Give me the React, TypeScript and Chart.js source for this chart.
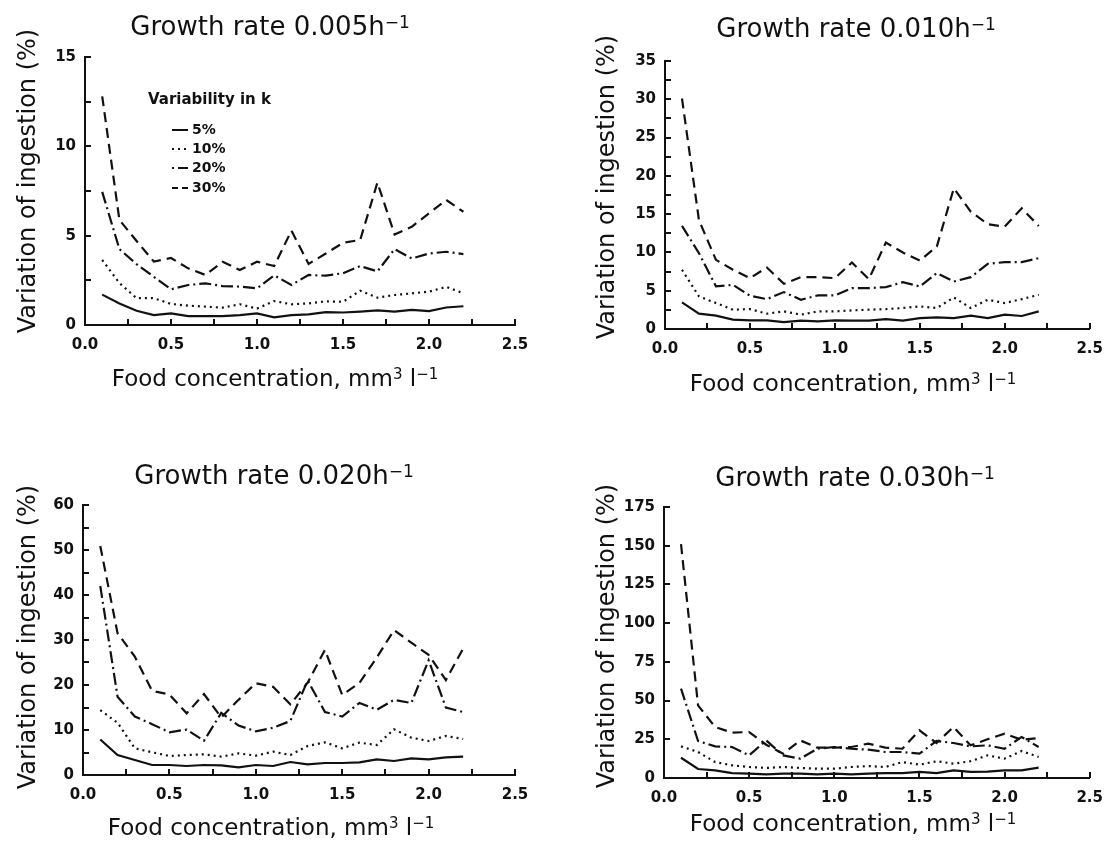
import React, { useEffect, useRef } from 'react';
import { Chart, registerables } from 'chart.js';

Chart.register(...registerables);

// ---------------- DATA ----------------
const foodConcentration = [0.1, 0.2, 0.3, 0.4, 0.5, 0.6, 0.7, 0.8, 0.9, 1.0, 1.1, 1.2, 1.3, 1.4, 1.5, 1.6, 1.7, 1.8, 1.9, 2.0, 2.1, 2.2];
const variabilityLabels = ['5%', '10%', '20%', '30%'];
const growthRateLabels = ['0.005', '0.010', '0.020', '0.030'];

// Growth rate 0.005 h-1
const g005_k5 = [1.7, 1.2, 0.8, 0.55, 0.65, 0.5, 0.5, 0.5, 0.55, 0.65, 0.43, 0.55, 0.6, 0.72, 0.7, 0.75, 0.82, 0.75, 0.85, 0.78, 0.98, 1.05];
const g005_k10 = [3.64, 2.35, 1.5, 1.5, 1.18, 1.08, 1.03, 0.97, 1.16, 0.92, 1.34, 1.16, 1.21, 1.32, 1.3, 1.92, 1.53, 1.68, 1.77, 1.87, 2.13, 1.78];
const g005_k20 = [7.45, 4.25, 3.4, 2.7, 2.0, 2.24, 2.33, 2.18, 2.15, 2.05, 2.78, 2.24, 2.8, 2.76, 2.9, 3.3, 3.0, 4.25, 3.72, 4.0, 4.1, 3.97];
const g005_k30 = [12.8, 5.88, 4.7, 3.55, 3.75, 3.17, 2.8, 3.54, 3.08, 3.54, 3.3, 5.28, 3.42, 4.0, 4.6, 4.76, 7.97, 5.07, 5.5, 6.25, 7.0, 6.34];

// Growth rate 0.010 h-1
const g010_k5 = [3.47, 2.0, 1.74, 1.22, 1.13, 1.13, 0.91, 1.09, 1.0, 1.13, 1.09, 1.09, 1.3, 1.09, 1.43, 1.52, 1.43, 1.74, 1.43, 1.87, 1.7, 2.3];
const g010_k10 = [7.73, 4.26, 3.39, 2.52, 2.6, 2.0, 2.3, 1.87, 2.3, 2.3, 2.43, 2.52, 2.6, 2.74, 2.95, 2.74, 4.12, 2.74, 3.82, 3.39, 3.9, 4.47];
const g010_k20 = [13.46, 9.9, 5.56, 5.77, 4.34, 3.9, 4.82, 3.82, 4.39, 4.39, 5.34, 5.34, 5.47, 6.12, 5.56, 7.3, 6.2, 6.77, 8.51, 8.73, 8.73, 9.25];
const g010_k30 = [30.1, 14.2, 9.03, 7.73, 6.64, 8.03, 5.9, 6.77, 6.77, 6.64, 8.68, 6.51, 11.29, 9.99, 8.94, 10.77, 18.37, 15.33, 13.68, 13.37, 15.76, 13.46];

// Growth rate 0.020 h-1
const g020_k5 = [7.9, 4.44, 3.33, 2.22, 2.22, 2.0, 2.22, 2.15, 1.7, 2.22, 2.0, 2.89, 2.37, 2.67, 2.67, 2.81, 3.48, 3.11, 3.7, 3.48, 3.93, 4.07];
const g020_k10 = [14.4, 11.6, 5.93, 5.04, 4.22, 4.44, 4.59, 4.07, 4.81, 4.3, 5.19, 4.44, 6.44, 7.26, 5.93, 7.19, 6.67, 10.15, 8.3, 7.56, 8.67, 8.0];
const g020_k20 = [42, 17.4, 13, 11.3, 9.5, 10.1, 7.6, 13.8, 11, 9.7, 10.5, 12, 21, 14, 13, 16, 14.5, 16.7, 16, 25.5, 15, 14];
const g020_k30 = [50.9, 31.5, 26.3, 18.7, 17.9, 13.7, 18.0, 12.8, 16.7, 20.4, 19.6, 15.7, 20.5, 27.8, 17.8, 20.5, 26.1, 32.2, 29.4, 26.7, 21.1, 28.1];

// Growth rate 0.030 h-1
const g030_k5 = [13.1, 5.8, 4.9, 3.2, 2.8, 2.4, 2.8, 2.8, 2.4, 2.8, 2.4, 2.8, 3.2, 3.2, 3.9, 3.2, 4.9, 3.9, 4.1, 4.9, 4.9, 6.7];
const g030_k10 = [20.4, 16.8, 10.3, 8.2, 7.1, 6.5, 7.1, 6.5, 6.0, 6.0, 7.1, 7.7, 7.1, 10.3, 8.6, 10.8, 9.3, 10.8, 14.6, 12.5, 17.4, 13.6];
const g030_k20 = [57.7, 23.9, 20.4, 20.0, 14.6, 24.3, 14.6, 12.5, 18.9, 20.0, 18.9, 18.3, 16.8, 16.8, 15.7, 23.9, 22.6, 20.4, 21.1, 18.9, 26.5, 20.0];
const g030_k30 = [151, 46.9, 32.9, 29.3, 29.7, 21.5, 15.7, 24.3, 19.6, 19.6, 20.0, 22.2, 19.6, 18.9, 30.8, 22.6, 32.9, 21.1, 25.0, 28.6, 24.7, 25.8];

const panelSeries = [
  [g005_k5, g005_k10, g005_k20, g005_k30],
  [g010_k5, g010_k10, g010_k20, g010_k30],
  [g020_k5, g020_k10, g020_k20, g020_k30],
  [g030_k5, g030_k10, g030_k20, g030_k30],
];

// axis ranges / ticks
const yMaxValues = [15, 35, 60, 175];
const yTickSteps = [2.5, 2.5, 5, 25];
const yLabelSteps = [5, 5, 10, 25];
const xMaxValue = 2.5;
const xTickStep = 0.25;
const xLabelStep = 0.5;

const xTitleText = [{ t: 'Food concentration, mm' }, { t: '3', sup: true }, { t: ' l' }, { t: '\u22121', sup: true }];
const yTitleText = [{ t: 'Variation of ingestion (%)' }];
const legendTitle = 'Variability in k';

// ---------------- STYLE / LAYOUT ----------------
const FONT = "'DejaVu Sans', sans-serif";
const INK = '#111';
const lineStyles = [
  { dash: [], legendDash: [], legendOffset: 0 },
  { dash: [2, 4], legendDash: [2, 4], legendOffset: 0 },
  { dash: [12, 4, 2, 4], legendDash: [12, 4, 2, 4], legendOffset: 16 },
  { dash: [10, 6], legendDash: [6, 4], legendOffset: 0 },
];

const panelBoxes = [
  { x: 0, y: 0, w: 557, h: 410 },
  { x: 557, y: 0, w: 557, h: 410 },
  { x: 0, y: 410, w: 557, h: 437 },
  { x: 557, y: 410, w: 557, h: 437 },
];
const plotAreas = [
  { left: 85, right: 515, top: 57, bottom: 325 },
  { left: 665, right: 1097, top: 61, bottom: 329 },
  { left: 83, right: 515, top: 505, bottom: 775 },
  { left: 664, right: 1093, top: 507, bottom: 778 },
];
const titlePos = [{ x: 270, y: 26 }, { x: 856, y: 28 }, { x: 274, y: 475 }, { x: 855, y: 477 }];
const xTitlePos = [{ x: 275, y: 378 }, { x: 853, y: 383 }, { x: 271, y: 827 }, { x: 853, y: 823 }];
const yTitlePos = [{ x: 26, y: 181 }, { x: 605, y: 187 }, { x: 26, y: 637 }, { x: 605, y: 636 }];
const legendPos = { headerX: 148, headerY: 100, lineX0: 172, lineX1: 188, textX: 192, rowY: [130, 149, 168, 188] };

type Seg = { t: string; sup?: boolean };

function drawRich(ctx: CanvasRenderingContext2D, segs: Seg[], cx: number, cy: number, size: number) {
  const main = `${size}px ${FONT}`;
  const sup = `${Math.round(size * 0.66)}px ${FONT}`;
  let total = 0;
  const widths = segs.map((s) => {
    ctx.font = s.sup ? sup : main;
    const w = ctx.measureText(s.t).width;
    total += w;
    return w;
  });
  let x = cx - total / 2;
  const base = cy + size * 0.365;
  ctx.textAlign = 'left';
  ctx.textBaseline = 'alphabetic';
  segs.forEach((s, i) => {
    ctx.font = s.sup ? sup : main;
    ctx.fillText(s.t, x, s.sup ? base - size * 0.3 : base);
    x += widths[i];
  });
}

const panelDecor = {
  id: 'panelDecor',
  afterDraw(chart: any, _args: any, opts: any) {
    const { ctx, chartArea, scales } = chart;
    const ox = opts.ox, oy = opts.oy;
    ctx.save();
    // inside tick marks
    ctx.strokeStyle = INK;
    ctx.lineWidth = 2;
    ctx.setLineDash([]);
    scales.x.ticks.forEach((t: any) => {
      if (t.value <= 1e-9) return;
      const px = Math.round(scales.x.getPixelForValue(t.value));
      ctx.beginPath();
      ctx.moveTo(px, chartArea.bottom);
      ctx.lineTo(px, chartArea.bottom - 6);
      ctx.stroke();
    });
    scales.y.ticks.forEach((t: any) => {
      if (t.value <= 1e-9) return;
      const py = Math.round(scales.y.getPixelForValue(t.value));
      ctx.beginPath();
      ctx.moveTo(chartArea.left, py);
      ctx.lineTo(chartArea.left + 6, py);
      ctx.stroke();
    });
    // texts
    ctx.fillStyle = INK;
    drawRich(ctx, [{ t: 'Growth rate ' + opts.rate + 'h' }, { t: '\u22121', sup: true }], opts.title.x - ox, opts.title.y - oy, 26);
    drawRich(ctx, xTitleText, opts.xTitle.x - ox, opts.xTitle.y - oy, 23);
    ctx.save();
    ctx.translate(opts.yTitle.x - ox, opts.yTitle.y - oy);
    ctx.rotate(-Math.PI / 2);
    drawRich(ctx, yTitleText, 0, 0, 24);
    ctx.restore();
    // legend
    if (opts.legend) {
      ctx.font = `bold 15px ${FONT}`;
      ctx.textAlign = 'left';
      ctx.textBaseline = 'middle';
      ctx.fillText(legendTitle, legendPos.headerX - ox, legendPos.headerY - oy);
      chart.data.datasets.forEach((ds: any, i: number) => {
        const y = legendPos.rowY[i] - oy;
        ctx.save();
        ctx.strokeStyle = INK;
        ctx.lineWidth = 2;
        ctx.setLineDash(lineStyles[i].legendDash);
        ctx.lineDashOffset = lineStyles[i].legendOffset;
        ctx.beginPath();
        ctx.moveTo(legendPos.lineX0 - ox, y);
        ctx.lineTo(legendPos.lineX1 - ox, y);
        ctx.stroke();
        ctx.restore();
        ctx.font = `bold 14px ${FONT}`;
        ctx.textBaseline = 'middle';
        ctx.fillText(ds.label, legendPos.textX - ox, y);
      });
    }
    ctx.restore();
  },
};

function isMultiple(v: number, step: number) {
  const r = v / step;
  return Math.abs(r - Math.round(r)) < 1e-6;
}

function buildConfig(i: number): any {
  const box = panelBoxes[i];
  const plot = plotAreas[i];
  const datasets = panelSeries[i].map((vals, s) => ({
    label: variabilityLabels[s],
    data: foodConcentration.map((x, j) => ({ x, y: vals[j] })),
    borderColor: INK,
    borderWidth: 2.2,
    borderDash: lineStyles[s].dash,
    pointRadius: 0,
    tension: 0,
    fill: false,
  }));
  const tickFont = { family: FONT, size: 15, weight: 'bold' };
  return {
    type: 'line',
    data: { datasets },
    options: {
      responsive: false,
      animation: false,
      events: [],
      layout: { padding: { left: 0, top: plot.top - box.y, right: box.x + box.w - plot.right, bottom: 0 } },
      plugins: {
        legend: { display: false },
        tooltip: { enabled: false },
        title: { display: false },
        panelDecor: {
          ox: box.x,
          oy: box.y,
          rate: growthRateLabels[i],
          title: titlePos[i],
          xTitle: xTitlePos[i],
          yTitle: yTitlePos[i],
          legend: i === 0,
        },
      },
      scales: {
        x: {
          type: 'linear',
          min: 0,
          max: xMaxValue,
          grid: { display: false, drawTicks: false },
          border: { display: true, color: INK, width: 2 },
          ticks: {
            stepSize: xTickStep,
            autoSkip: false,
            maxRotation: 0,
            padding: 11,
            color: INK,
            font: tickFont,
            callback: (v: number) => (isMultiple(v, xLabelStep) ? Number(v).toFixed(1) : ''),
          },
          afterFit: (s: any) => {
            s.height = box.y + box.h - plot.bottom;
          },
        },
        y: {
          type: 'linear',
          min: 0,
          max: yMaxValues[i],
          grid: { display: false, drawTicks: false },
          border: { display: true, color: INK, width: 2 },
          ticks: {
            stepSize: yTickSteps[i],
            autoSkip: false,
            padding: 9,
            color: INK,
            font: tickFont,
            callback: (v: number) => (isMultiple(v, yLabelSteps[i]) ? String(Math.round(v)) : ''),
          },
          afterFit: (s: any) => {
            s.width = plot.left - box.x;
          },
        },
      },
    },
    plugins: [panelDecor],
  };
}

function Panel({ index }: { index: number }) {
  const ref = useRef<HTMLCanvasElement | null>(null);
  useEffect(() => {
    if (!ref.current) return;
    const chart = new Chart(ref.current, buildConfig(index));
    return () => chart.destroy();
  }, [index]);
  const b = panelBoxes[index];
  return (
    <canvas
      ref={ref}
      width={b.w}
      height={b.h}
      style={{ position: 'absolute', left: b.x, top: b.y, width: b.w, height: b.h }}
    />
  );
}

export default function App() {
  return (
    <div style={{ position: 'absolute', left: 0, top: 0, width: 1114, height: 847, background: '#fff' }}>
      {panelBoxes.map((_, i) => (
        <Panel key={i} index={i} />
      ))}
    </div>
  );
}
